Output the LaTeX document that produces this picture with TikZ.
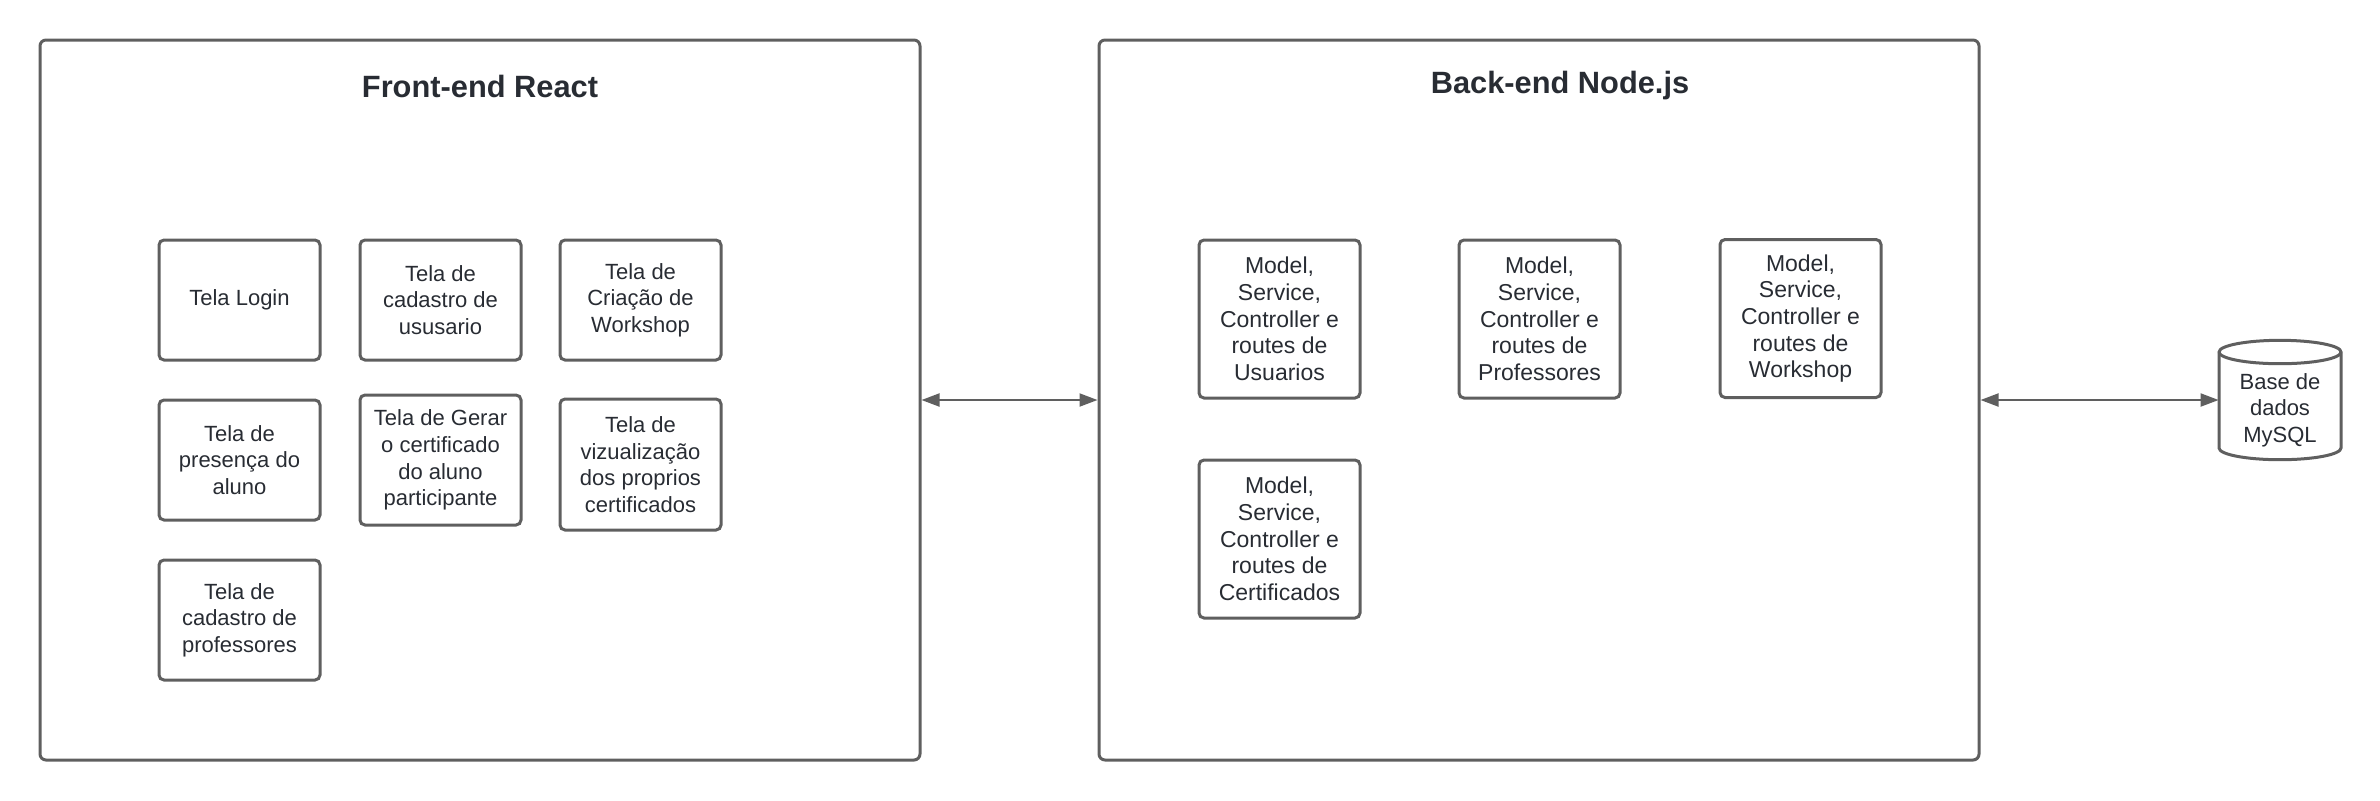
\documentclass[tikz,border=0pt]{standalone}
\usepackage{fontspec}
\setmainfont{Liberation Sans}
\usetikzlibrary{arrows.meta}
\definecolor{linegray}{HTML}{5F5F5F}
\definecolor{txt}{HTML}{282C33}
\begin{document}
\begin{tikzpicture}[x=0.5pt,y=-0.5pt,
  frame/.style={draw=linegray,line width=1.5pt,rounded corners=3pt,minimum width=440pt,minimum height=360pt,inner sep=0pt},
  title/.style={text=txt,font=\fontsize{15.4pt}{18pt}\selectfont\bfseries},
  box/.style={draw=linegray,line width=1.5pt,rounded corners=2.5pt,minimum width=80.5pt,inner sep=0pt,align=center,text=txt,font=\fontsize{11pt}{13.35pt}\selectfont},
  fbox/.style={box,minimum height=60pt},
  bbox/.style={box,minimum height=79pt,font=\fontsize{11.5pt}{13.35pt}\selectfont},
  conn/.style={draw=linegray,line width=1pt,{Triangle[length=9pt,width=6.5pt]}-{Triangle[length=9pt,width=6.5pt]}}
]
\useasboundingbox (0,0) rectangle (2380,800);
% frames
\node[frame] (front) at (480,400) {};
\node[frame] (back) at (1539,400) {};
\node[title] (tfront) at (480,86) {Front-end React};
\node[title] (tback) at (1560,86) {Back-end Node.js};
% front boxes
\node[fbox] (f1) at (239.5,300) {Tela Login};
\node[fbox] (f2) at (440.5,300) {Tela de\\cadastro de\\ususario};
\node[fbox] (f3) at (640.5,300) {Tela de\\Criação de\\Workshop};
\node[fbox] (f4) at (239.5,460) {Tela de\\presença do\\aluno};
\node[box,minimum height=65pt] (f5) at (440.5,460) {Tela de Gerar\\o certificado\\do aluno\\participante};
\node[box,minimum height=65.5pt] (f6) at (640.5,464.5) {Tela de\\vizualização\\dos proprios\\certificados};
\node[fbox] (f7) at (239.5,620) {Tela de\\cadastro de\\professores};
% back boxes
\node[bbox] (b1) at (1279.5,319) {Model,\\Service,\\Controller e\\routes de\\Usuarios};
\node[bbox] (b2) at (1539.5,319) {Model,\\Service,\\Controller e\\routes de\\Professores};
\node[bbox] (b3) at (1800.5,318.5) {Model,\\Service,\\Controller e\\routes de\\Workshop};
\node[bbox] (b4) at (1279.5,539) {Model,\\Service,\\Controller e\\routes de\\Certificados};
% database
\node[minimum width=61pt,minimum height=60pt,inner sep=0pt] (db) at (2280,400) {};
\draw[linegray,line width=1.5pt,fill=white] (2219,352) -- (2219,448) arc[start angle=180,end angle=360,x radius=30.5pt,y radius=5.85pt] -- (2341,352) arc[start angle=0,end angle=180,x radius=30.5pt,y radius=5.85pt] -- cycle;
\draw[linegray,line width=1.5pt] (2219,352) arc[start angle=180,end angle=360,x radius=30.5pt,y radius=5.85pt];
\node[align=center,text=txt,font=\fontsize{11pt}{13.35pt}\selectfont] (dbtext) at (2280,410) {Base de\\dados\\MySQL};
% connectors
\draw[conn] (front.east) -- (back.west);
\draw[conn] (back.east) -- (db.west);
\end{tikzpicture}
\end{document}
